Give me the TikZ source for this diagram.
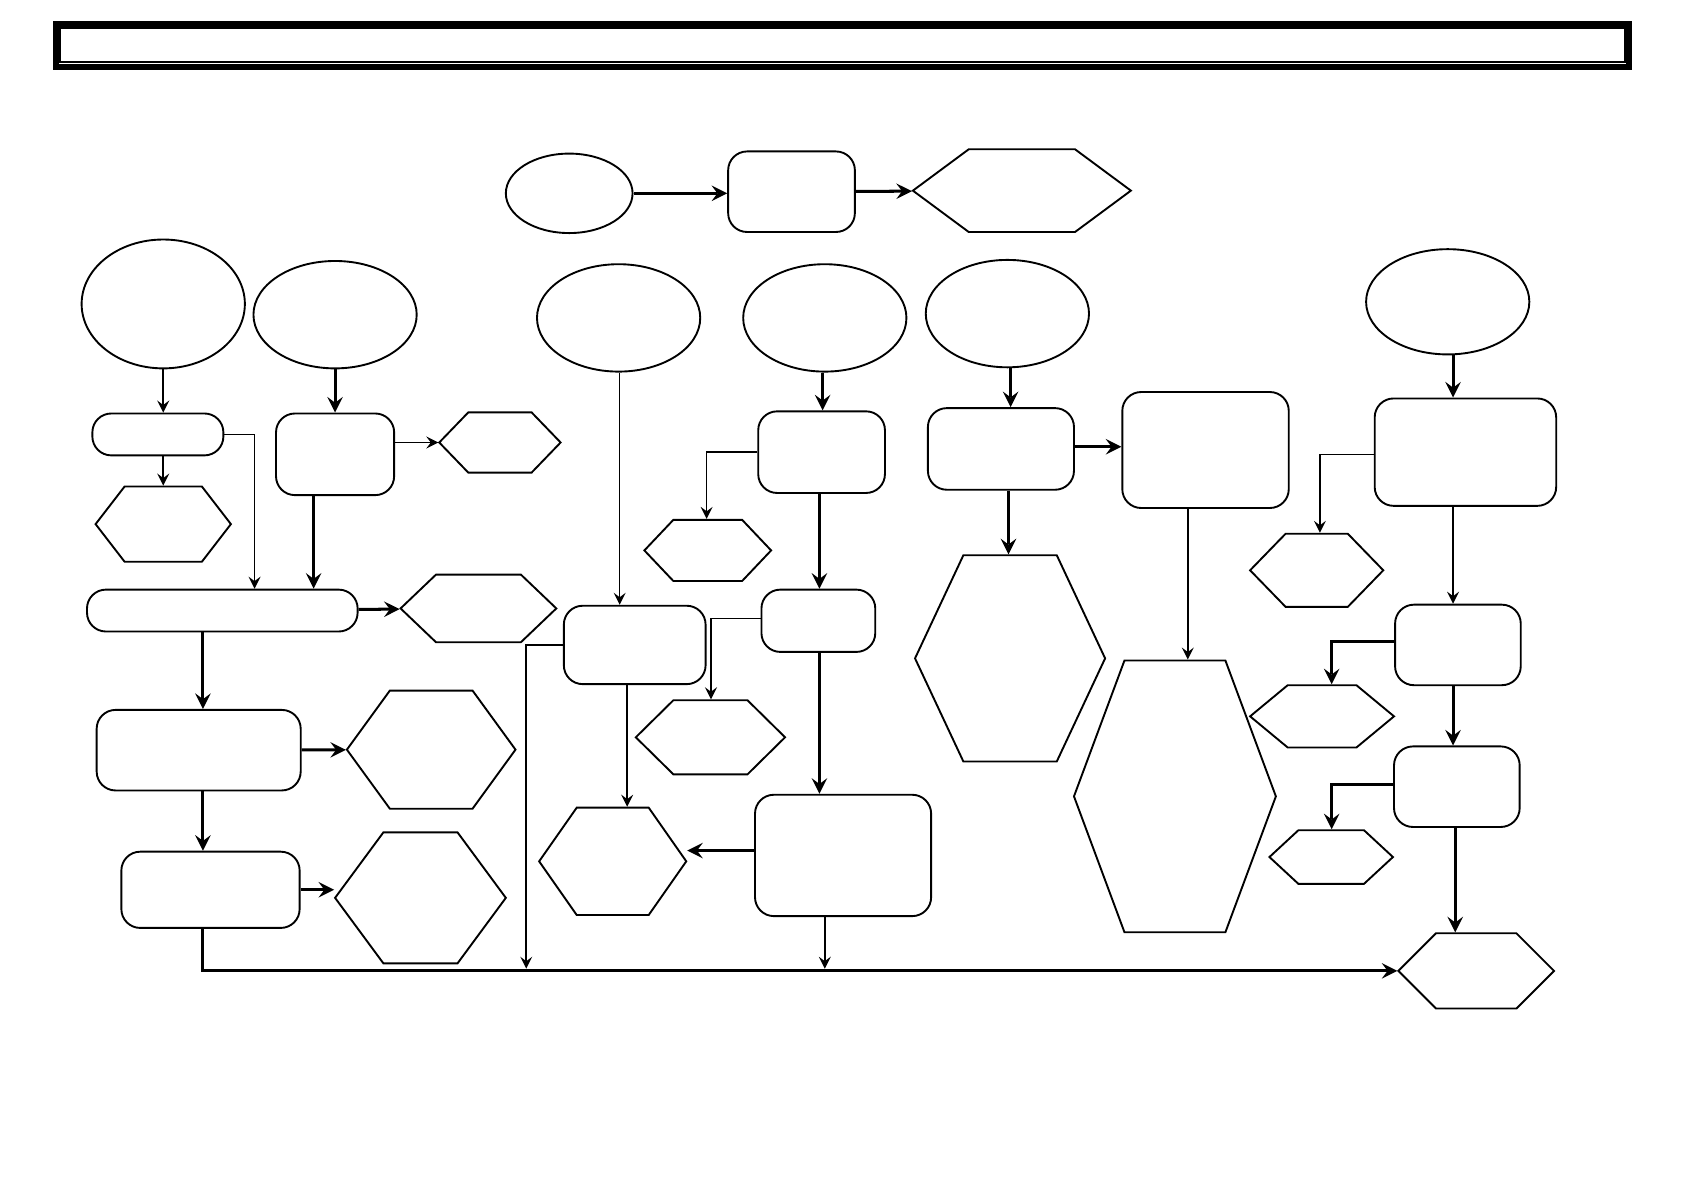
\documentclass[tikz,border=0pt]{standalone}
\usetikzlibrary{shapes.geometric,arrows,positioning,calc}
\tikzset{x=0.01cm,y=-0.01cm,>=stealth,
  box/.style={draw,rounded corners=5pt,inner sep=0},
  oval/.style={draw,ellipse,inner sep=0},
  hexline/.style={draw},
  thin arrow/.style={->,line width=0.4pt},
  thick arrow/.style={->,line width=0.8pt}}
% name, x1, y1, x2, y2
\newcommand{\boxnode}[5]{\node[box,minimum width={(#4-#2)*0.01cm},minimum height={(#5-#3)*0.01cm}]
  (#1) at ({(#2+#4)/2},{(#3+#5)/2}) {};}
% name, cx, cy, rx, ry
\newcommand{\ovalnode}[5]{\node[oval,minimum width={2*#4*0.01cm},minimum height={2*#5*0.01cm}]
  (#1) at (#2,#3) {};}
% name, x1, y1, x2, y2, inset
\newcommand{\hexnode}[6]{\draw[hexline] (#2,{(#3+#5)/2}) -- (#2+#6,#3) -- (#4-#6,#3) -- (#4,{(#3+#5)/2})
  -- (#4-#6,#5) -- (#2+#6,#5) -- cycle;
  \node[inner sep=0,minimum width={(#4-#2)*0.01cm},minimum height={(#5-#3)*0.01cm}]
  (#1) at ({(#2+#4)/2},{(#3+#5)/2}) {};}
\begin{document}
\begin{tikzpicture}[line width=0.5pt]
\useasboundingbox (0,0) rectangle (1568,1108);
% title frame
\draw[line width=1.6pt] (52,22) rectangle (1517,62);
\draw (56,26) rectangle (1513,58);

% top row
\ovalnode{start}{530}{180}{59}{37}
\boxnode{topbox}{678}{141}{796}{216}
\hexnode{tophex}{850}{139}{1053}{216}{52}
\draw[thick arrow] (start.east) -- (topbox.west |- start.east);
\draw[thick arrow] (topbox) -- (tophex);

% ovals
\ovalnode{ovA}{152}{283}{76}{60}
\ovalnode{ovB}{312}{293}{76}{50}
\ovalnode{ovC}{576}{296}{76}{50}
\ovalnode{ovD}{768}{296}{76}{50}
\ovalnode{ovE}{938}{292}{76}{50}
\ovalnode{ovF}{1348}{281}{76}{49}

% left column
\boxnode{boxA}{86}{385}{208}{424}
\hexnode{hexA}{89}{453}{215}{523}{27}
\boxnode{boxB}{257}{385}{367}{461}
\hexnode{hexB}{409}{384}{522}{440}{27}
\boxnode{wide}{81}{549}{333}{588}
\hexnode{hexC}{373}{535}{518}{598}{33}
\boxnode{boxC}{90}{661}{280}{736}
\hexnode{hexD}{323}{643}{480}{753}{40}
\boxnode{boxD}{113}{793}{279}{864}
\hexnode{hexE}{312}{775}{471}{897}{45}

\draw[thin arrow] (ovA.south -| 152,0) -- (boxA.north -| 152,0);
\draw[thin arrow] (boxA.south -| 152,0) -- (hexA.north -| 152,0);
\draw[thin arrow] (boxA.east) -| (wide.north -| 237,0);
\draw[thick arrow] (ovB) -- (boxB);
\draw[thin arrow] (boxB.east |- hexB.west) -- (hexB.west);
\draw[thick arrow] (boxB.south -| 292,0) -- (wide.north -| 292,0);
\draw[thick arrow] (wide) -- (hexC);
\draw[thick arrow] (wide.south -| 189,0) -- (boxC.north -| 189,0);
\draw[thick arrow] (boxC) -- (hexD);
\draw[thick arrow] (boxC.south -| 189,0) -- (boxD.north -| 189,0);
\draw[thick arrow] (boxD.east) -- (hexE.west |- boxD.east);

% middle columns
\boxnode{boxE}{525}{564}{657}{637}
\hexnode{hexF}{502}{752}{639}{852}{35}
\boxnode{boxF}{706}{383}{824}{459}
\hexnode{hexG}{600}{484}{718}{541}{27}
\boxnode{boxG}{709}{549}{815}{607}
\hexnode{hexH}{592}{652}{731}{721}{35}
\boxnode{boxH}{703}{740}{867}{853}

\draw[thin arrow] (ovC.south -| 577,0) -- (boxE.north -| 577,0);
\draw[thin arrow] (boxE.south -| 584,0) -- (hexF.north -| 584,0);
\draw[thick arrow] (ovD.south -| 766,0) -- (boxF.north -| 766,0);
\draw[thin arrow] (boxF.west) -| (hexG.north -| 658,0);
\draw[thick arrow] (boxF.south -| 763,0) -- (boxG.north -| 763,0);
\draw[thin arrow] (boxG.west |- 0,576) -| (hexH.north -| 662,0);
\draw[thick arrow] (boxG.south -| 763,0) -- (boxH.north -| 763,0);
\draw[thick arrow] (boxH.west |- 0,792) -- (hexF.east |- 0,792);

\boxnode{boxI}{864}{380}{1000}{456}
\boxnode{boxJ}{1045}{365}{1200}{473}
\hexnode{hexI}{852}{517}{1029}{709}{45}
\hexnode{hexJ}{1000}{615}{1188}{868}{47}
\draw[thick arrow] (ovE.south -| 941,0) -- (boxI.north -| 941,0);
\draw[thick arrow] (boxI.east |- 0,416) -- (boxJ.west |- 0,416);
\draw[thick arrow] (boxI.south -| 939,0) -- (hexI.north -| 939,0);
\draw[thin arrow] (boxJ.south -| 1106,0) -- (hexJ.north -| 1106,0);

% right column
\boxnode{boxK}{1280}{371}{1449}{471}
\hexnode{hexK}{1164}{497}{1288}{565}{33}
\boxnode{boxL}{1299}{563}{1416}{638}
\hexnode{hexL}{1164}{638}{1298}{696}{35}
\boxnode{boxM}{1298}{695}{1415}{770}
\hexnode{hexM}{1182}{773}{1297}{823}{27}
\hexnode{last}{1302}{869}{1447}{939}{35}
\draw[thick arrow] (ovF.south -| 1353,0) -- (boxK.north -| 1353,0);
\draw[thin arrow] (boxK.west |- 0,423) -| (hexK.north -| 1229,0);
\draw[thin arrow] (boxK.south -| 1353,0) -- (boxL.north -| 1353,0);
\draw[thick arrow] (boxL.west |- 0,597) -| (hexL.north -| 1240,0);
\draw[thick arrow] (boxL.south -| 1353,0) -- (boxM.north -| 1353,0);
\draw[thick arrow] (boxM.west |- 0,730) -| (hexM.north -| 1240,0);
\draw[thick arrow] (boxM.south -| 1355,0) -- (last.north -| 1355,0);

% bottom bus
\coordinate (busA) at (490,902);
\coordinate (busB) at (768,902);
\draw[thick arrow] (boxD.south -| 189,0) |- (last.west);
\draw[thin arrow] (boxE.west) -| (busA);
\draw[thin arrow] (boxH.south -| 768,0) -- (busB);
\end{tikzpicture}
\end{document}
